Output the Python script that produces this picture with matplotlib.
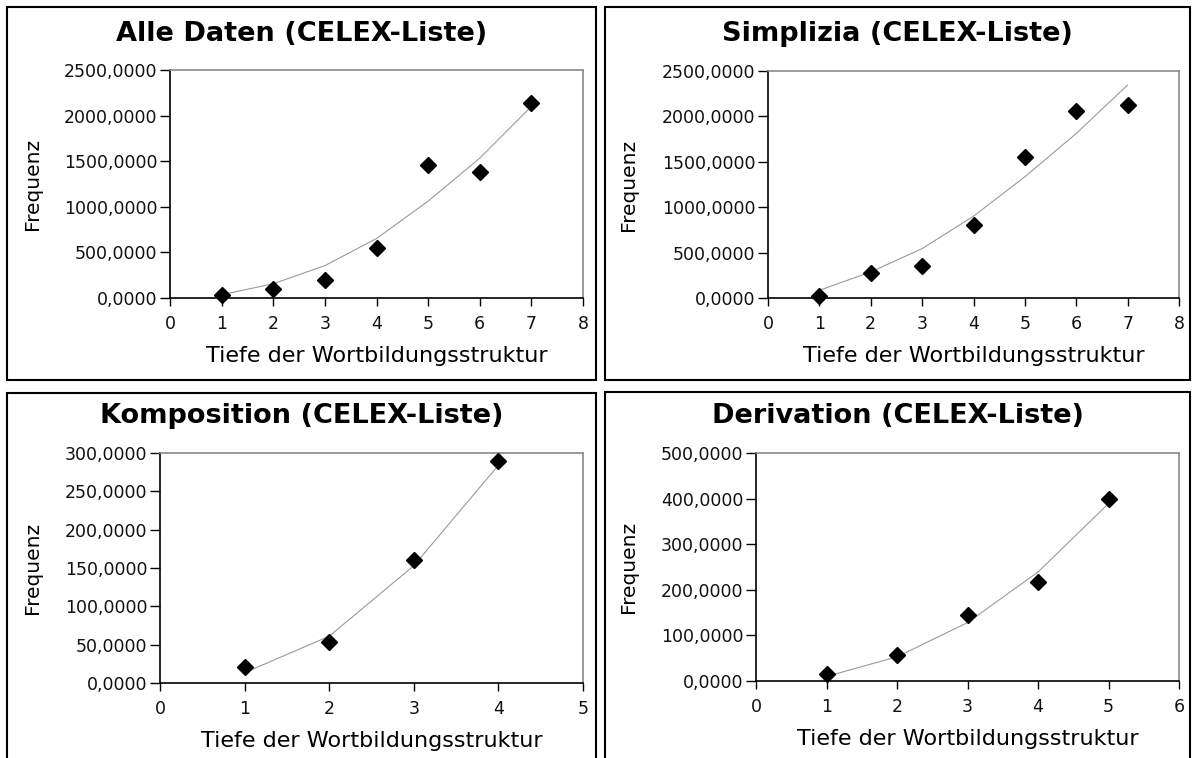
import matplotlib
matplotlib.use("Agg")
import matplotlib.pyplot as plt
from matplotlib.patches import Rectangle
from matplotlib.ticker import FuncFormatter

W, H = 1192, 758

# Values
titles = ["Alle Daten (CELEX-Liste)", "Simplizia (CELEX-Liste)",
          "Komposition (CELEX-Liste)", "Derivation (CELEX-Liste)"]

alle_x = [1, 2, 3, 4, 5, 6, 7]
alle_y = [29, 101, 192, 543, 1460, 1377, 2138]
alle_trend = [36, 156, 355, 652, 1062, 1533, 2100]

simpl_x = [1, 2, 3, 4, 5, 6, 7]
simpl_y = [22, 279, 349, 801, 1551, 2063, 2129]
simpl_trend = [85, 287, 544, 901, 1335, 1812, 2346]

komp_x = [1, 2, 3, 4]
komp_y = [21, 54, 161, 289]
komp_trend = [13.5, 61, 153, 284]

deriv_x = [1, 2, 3, 4, 5]
deriv_y = [16, 56, 144, 217, 400]
deriv_trend = [10, 53, 128, 239, 389]

x_max = [8, 8, 5, 6]
y_max = [2500, 2500, 300, 500]
y_step = [500, 500, 50, 100]

# layout in pixels: panel box (l, t, r, b), axes box (l, t, r, b)
panel_boxes = [(7, 7, 596, 380), (605, 7, 1190, 380),
               (7, 393, 596, 770), (605, 392, 1190, 770)]
axes_boxes = [(170, 70, 583, 298), (768, 71, 1179, 298),
              (160, 453, 583, 683), (756, 453, 1179, 681)]
title_y = [34, 34, 416, 416]
ylabel_x = [32, 628, 33, 628]

fig = plt.figure(figsize=(W / 100, H / 100), dpi=100)
fig.patch.set_facecolor("white")

def fx(px):
    return px / W

def fy(py):
    return 1 - py / H

fmt = FuncFormatter(lambda v, p: ("%.4f" % v).replace(".", ","))

series = [(alle_x, alle_y, alle_trend), (simpl_x, simpl_y, simpl_trend),
          (komp_x, komp_y, komp_trend), (deriv_x, deriv_y, deriv_trend)]

for i, (xs, ys, trend) in enumerate(series):
    pl, pt, pr, pb = panel_boxes[i]
    fig.patches.append(Rectangle((fx(pl), fy(pb)), fx(pr - pl), (pb - pt) / H,
                                 transform=fig.transFigure, fill=False,
                                 edgecolor="black", linewidth=1.5))
    al, at, ar, ab = axes_boxes[i]
    ax = fig.add_axes([fx(al), fy(ab), fx(ar - al), (ab - at) / H])
    ax.plot(xs, trend, color="#9a9a9a", linewidth=0.8, zorder=2)
    ax.plot(xs, ys, linestyle="none", marker="D", markersize=8.5,
            color="black", zorder=3, clip_on=False)
    ax.set_xlim(0, x_max[i])
    ax.set_ylim(0, y_max[i])
    ax.set_xticks(range(0, x_max[i] + 1))
    ax.set_yticks(range(0, y_max[i] + 1, y_step[i]))
    ax.yaxis.set_major_formatter(fmt)
    ax.tick_params(direction="out", width=1, labelsize=12.5,
                   colors="black", labelcolor="#111111")
    ax.tick_params(axis="y", length=7, pad=2)
    ax.tick_params(axis="x", length=6, pad=6)
    ax.spines["left"].set_color("black")
    ax.spines["bottom"].set_color("black")
    ax.spines["top"].set_color("#8a8a8a")
    ax.spines["right"].set_color("#8a8a8a")
    for s in ax.spines.values():
        s.set_linewidth(1.2)
    fig.text(fx((pl + pr) / 2), fy(title_y[i]), titles[i], ha="center",
             va="center", fontsize=19.5, fontweight="bold")
    fig.text(fx((al + ar) / 2), fy(ab + 58), "Tiefe der Wortbildungsstruktur",
             ha="center", va="center", fontsize=16)
    fig.text(fx(ylabel_x[i]), fy((at + ab) / 2), "Frequenz", ha="center",
             va="center", rotation=90, fontsize=14.5)

fig.savefig("out.png", dpi=100)
